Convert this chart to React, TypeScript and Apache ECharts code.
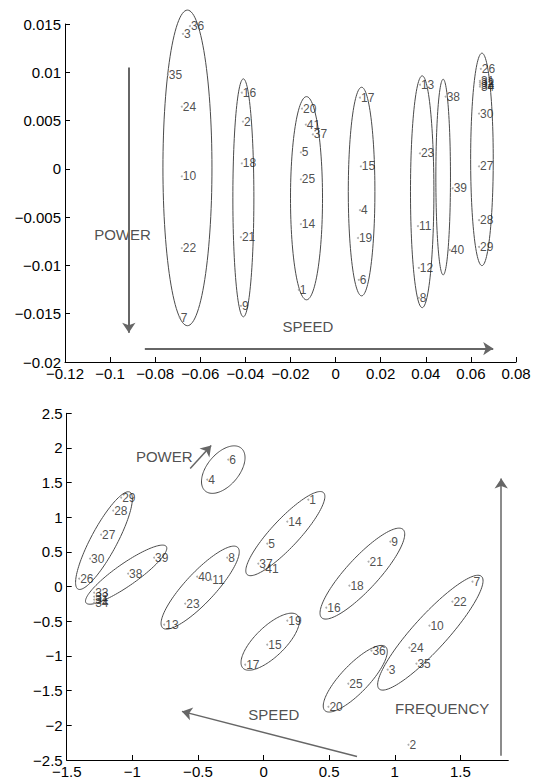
import React, { useEffect, useRef } from "react";
import * as echarts from "echarts";

// ---------- TOP PANEL DATA ----------
const topLabels = Array.from({ length: 41 }, (_, i) => String(i + 1));
const topX = [-0.0163, -0.0411, -0.0677, 0.0108, -0.0154, 0.0103, -0.0691, 0.0369, -0.042, -0.0682, 0.0365, 0.0369, 0.0374, -0.0154, 0.0112, -0.0416, 0.0108, -0.0416, 0.0099, -0.0149, -0.042, -0.0682, 0.0374, -0.0682, -0.0154, 0.0644, 0.0636, 0.0636, 0.0636, 0.0636, 0.064, 0.064, 0.064, 0.064, -0.0744, -0.0646, -0.0101, 0.0488, 0.0519, 0.0506, -0.0132];
const topY = [-0.01253, 0.0049, 0.01397, -0.00428, 0.0017, -0.01149, -0.01541, -0.01335, -0.01418, -0.00077, -0.00593, -0.01026, 0.00871, -0.00572, 0.00026, 0.00789, 0.00737, 0.00057, -0.00716, 0.00624, -0.00706, -0.0082, 0.0016, 0.00644, -0.00108, 0.01036, 0.00026, -0.00531, -0.00809, 0.00572, 0.00912, 0.00892, 0.00871, 0.00851, 0.00974, 0.01479, 0.00356, 0.00747, -0.00201, -0.0084, 0.00459];
// ellipses: [cx, cy, ux, uy, vx, vy]
const topEllipses = [
  [-0.0657, 0.0001, 0, 0.01634, 0.01087, 0],
  [-0.0409, -0.003, 0, 0.01232, 0.00466, 0],
  [-0.0129, -0.00304, 0, 0.01052, 0.0071, 0],
  [0.01153, -0.00235, 0, 0.0108, 0.0059, 0],
  [0.0384, -0.00237, 0, 0.012, 0.00519, 0],
  [0.0477, -0.00085, 0, 0.01013, 0.00324, 0],
  [0.0649, 0.00098, 0, 0.011, 0.00501, 0],
];
const topArrows = [
  [[-0.0917, 0.01049], [-0.0917, -0.01696]],
  [[-0.0846, -0.01861], [0.0699, -0.01861]],
];
const topNotes = [
  { text: "POWER", x: -0.0945, y: -0.00675 },
  { text: "SPEED", x: -0.0123, y: -0.01634 },
];
const topXTicks = [-0.12, -0.1, -0.08, -0.06, -0.04, -0.02, 0, 0.02, 0.04, 0.06, 0.08];

// ---------- BOTTOM PANEL DATA ----------
const botLabels = ["1", "2", "3", "4", "5", "6", "7", "8", "9", "10", "11", "13", "14", "15", "16", "17", "18", "19", "20", "21", "22", "23", "24", "25", "26", "27", "28", "29", "30", "31", "32", "33", "34", "35", "36", "37", "38", "39", "40", "41"];
const botX = [0.341, 1.104, 0.946, -0.429, 0.028, -0.269, 1.592, -0.277, 0.966, 1.264, -0.399, -0.757, 0.181, 0.028, 0.478, -0.14, 0.654, 0.181, 0.494, 0.8, 1.439, -0.597, 1.111, 0.646, -1.405, -1.238, -1.146, -1.085, -1.322, -1.291, -1.291, -1.291, -1.291, 1.165, 0.822, -0.04, -1.032, -0.834, -0.506, 0.005];
const botY = [1.255, -2.28, -1.198, 1.544, 0.62, 1.833, 0.072, 0.418, 0.649, -0.563, 0.101, -0.548, 0.938, -0.837, -0.303, -1.126, 0.014, -0.491, -1.732, 0.361, -0.216, -0.245, -0.88, -1.4, 0.115, 0.75, 1.097, 1.284, 0.404, -0.188, -0.144, -0.087, -0.231, -1.111, -0.924, 0.332, 0.188, 0.418, 0.144, 0.26];
const botEllipses = [
  [-0.307, 1.688, 0.137, 0.309, -0.0935, 0.148],
  [-1.216, 0.664, 0.198, 0.699, -0.0874, 0.0887],
  [-1.047, 0.173, 0.306, 0.406, -0.0482, 0.13],
  [-0.483, -0.014, 0.286, 0.58, -0.0836, 0.1476],
  [0.166, 0.765, 0.291, 0.591, -0.0781, 0.1378],
  [0.753, 0.188, 0.31, 0.637, -0.0898, 0.1563],
  [0.051, -0.794, 0.208, 0.381, -0.0795, 0.1556],
  [0.699, -1.328, 0.2316, 0.4597, -0.0773, 0.1394],
  [1.271, -0.664, 0.39, 0.8115, -0.096, 0.165],
];
const botArrows = [
  [[-0.559, 1.703], [-0.399, 2.035]],
  [[1.811, -2.439], [1.811, 1.558]],
  [[0.712, -2.449], [-0.622, -1.799]],
];
const botNotes = [
  { text: "POWER", x: -0.757, y: 1.876 },
  { text: "FREQUENCY", x: 1.361, y: -1.76 },
  { text: "SPEED", x: 0.078, y: -1.847 },
];
const botXTicks = [-1.5, -1, -0.5, 0, 0.5, 1, 1.5];

const FONT = "Liberation Sans, Arial, Helvetica, sans-serif";

const fmt = (v: number) => String(parseFloat(Number(v).toFixed(4))).replace("-", "\u2212");

function ellipseRender(params: any, api: any) {
  const cx = api.value(0), cy = api.value(1), ux = api.value(2), uy = api.value(3), vx = api.value(4), vy = api.value(5);
  const pts: number[][] = [];
  const N = 120;
  for (let i = 0; i <= N; i++) {
    const t = (2 * Math.PI * i) / N;
    const c = Math.cos(t), s = Math.sin(t);
    pts.push(api.coord([cx + ux * c + vx * s, cy + uy * c + vy * s]));
  }
  return {
    type: "polyline",
    shape: { points: pts },
    style: { fill: "none", stroke: "#4a4a4a", lineWidth: 1 },
  };
}

function axisX(gridIndex: number, min: number, max: number, interval: number, ticks?: number[]) {
  const a: any = {
    type: "value", gridIndex, min, max, interval,
    axisLine: { onZero: false, lineStyle: { color: "#000", width: 1 } },
    axisTick: { inside: true, length: 5, lineStyle: { color: "#000" } },
    splitLine: { show: false },
    axisLabel: { color: "#000", fontSize: 15, fontFamily: FONT, margin: 4, formatter: fmt },
  };
  if (ticks) {
    a.axisTick.customValues = ticks;
    a.axisLabel.customValues = ticks;
  }
  return a;
}
function axisY(gridIndex: number, min: number, max: number, interval: number) {
  return {
    type: "value", gridIndex, min, max, interval,
    axisLine: { show: true, onZero: false, lineStyle: { color: "#000", width: 1 } },
    axisTick: { show: true, inside: true, length: 5, lineStyle: { color: "#000" } },
    splitLine: { show: false },
    axisLabel: { color: "#000", fontSize: 15, fontFamily: FONT, margin: 4, formatter: fmt },
  };
}

function pointSeries(idx: number, labels: string[], xs: number[], ys: number[], arrows: number[][][], width: number) {
  return {
    type: "scatter",
    xAxisIndex: idx, yAxisIndex: idx,
    symbolSize: 2,
    itemStyle: { color: "#9a9a9a" },
    data: labels.map((l, i) => ({ name: l, value: [xs[i], ys[i]] })),
    label: {
      show: true, position: "right", distance: 0, formatter: "{b}",
      fontSize: 12, fontFamily: FONT, color: "#222",
    },
    labelLayout: { hideOverlap: false },
    markLine: {
      silent: true,
      symbol: ["none", "arrow"],
      symbolSize: 10,
      label: { show: false },
      lineStyle: { color: "#666", width, type: "solid" },
      data: arrows.map((a) => [{ coord: a[0] }, { coord: a[1] }]),
    },
    z: 3,
  };
}

function noteSeries(idx: number, notes: { text: string; x: number; y: number }[]) {
  return {
    type: "scatter",
    xAxisIndex: idx, yAxisIndex: idx,
    symbolSize: 1,
    itemStyle: { color: "rgba(0,0,0,0)" },
    data: notes.map((n) => ({ name: n.text, value: [n.x, n.y] })),
    label: { show: true, position: "inside", formatter: "{b}", fontSize: 15, fontFamily: FONT, color: "#222" },
    z: 4,
  };
}

export default function App() {
  const ref = useRef<HTMLDivElement>(null);
  useEffect(() => {
    if (!ref.current) return;
    const chart = echarts.init(ref.current, undefined, { renderer: "svg" });
    chart.setOption({
      animation: false,
      backgroundColor: "#fff",
      grid: [
        { left: 65, top: 24, width: 451, height: 338 },
        { left: 66.7, top: 413.3, width: 441.6, height: 346.7 },
      ],
      xAxis: [axisX(0, -0.12, 0.08, 0.02), axisX(1, -1.5, 1.865, 0.5, botXTicks)],
      yAxis: [axisY(0, -0.02, 0.015, 0.005), axisY(1, -2.5, 2.5, 0.5)],
      series: [
        {
          type: "custom", xAxisIndex: 0, yAxisIndex: 0, clip: false,
          renderItem: ellipseRender, data: topEllipses, encode: { x: 0, y: 1 }, silent: true, z: 2,
        },
        {
          type: "custom", xAxisIndex: 1, yAxisIndex: 1, clip: false,
          renderItem: ellipseRender, data: botEllipses, encode: { x: 0, y: 1 }, silent: true, z: 2,
        },
        pointSeries(0, topLabels, topX, topY, topArrows, 2),
        pointSeries(1, botLabels, botX, botY, botArrows, 1.5),
        noteSeries(0, topNotes),
        noteSeries(1, botNotes),
      ],
    });
    return () => chart.dispose();
  }, []);
  return <div ref={ref} style={{ position: "fixed", left: 0, top: 0, width: 539, height: 781 }} />;
}
